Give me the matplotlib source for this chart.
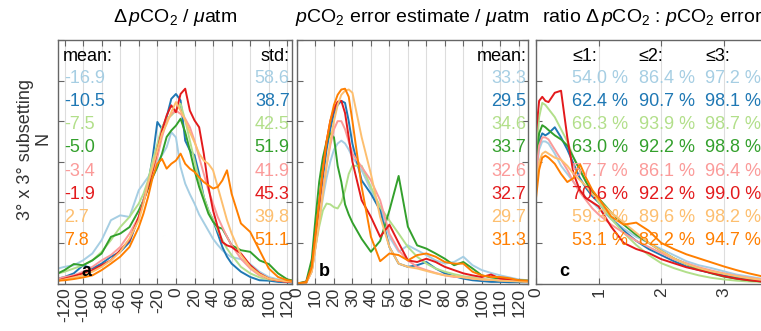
import numpy as np
import matplotlib
matplotlib.use('Agg')
import matplotlib.pyplot as plt

plt.rcParams['font.family'] = ['Liberation Sans', 'DejaVu Sans']
plt.rcParams['mathtext.fontset'] = 'custom'
plt.rcParams['mathtext.rm'] = 'Liberation Sans'
plt.rcParams['mathtext.it'] = 'Liberation Sans:italic'

colors = ['#a6cee3', '#1f78b4', '#b2df8a', '#33a02c',
          '#fb9a99', '#e31a1c', '#fdbf6f', '#ff7f00']

# ---- panel a: delta pCO2 distributions
xa = [-127, -120, -110, -100, -90, -80, -70, -60, -50, -40, -35, -30, -25, -20, -15, -10, -5,
      0, 5, 10, 15, 20, 25, 30, 35, 40, 45, 50, 55, 60, 70, 80, 90, 100, 110, 120, 127]
a_lblue = [0.37, 0.41, 0.45, 0.57, 0.74, 1.07, 1.56, 1.68, 1.64, 2.30, 2.46, 2.62, 2.79, 2.99, 3.16, 3.36, 3.73,
           3.60, 2.87, 2.46, 2.20, 1.97, 1.70, 1.50, 1.30, 1.10, 0.95, 0.82, 0.72, 0.65, 0.60, 0.48, 0.29, 0.16, 0.10, 0.07, 0.04]
a_dblue = [0.12, 0.16, 0.25, 0.45, 0.37, 0.49, 0.66, 0.78, 1.02, 1.64, 2.05, 2.46, 3.11, 3.98, 3.81, 4.10, 4.55,
           4.67, 4.51, 3.52, 3.28, 3.16, 2.70, 2.13, 1.80, 1.56, 1.23, 0.90, 0.66, 0.49, 0.29, 0.16, 0.08, 0.07, 0.04, 0.03, 0.02]
a_lgreen = [0.25, 0.29, 0.37, 0.45, 0.57, 0.78, 1.07, 1.39, 1.64, 1.97, 2.21, 2.54, 3.03, 3.44, 3.85, 4.06, 4.14,
            4.26, 4.43, 4.02, 3.52, 3.03, 2.54, 2.13, 1.80, 1.56, 1.31, 1.07, 0.86, 0.70, 0.41, 0.25, 0.15, 0.10, 0.07, 0.05, 0.04]
a_dgreen = [0.25, 0.33, 0.48, 0.45, 0.57, 0.74, 1.15, 1.23, 1.39, 1.80, 2.05, 2.34, 2.62, 2.87, 3.20, 3.61, 3.77,
            3.89, 4.06, 3.73, 3.28, 2.79, 2.38, 2.05, 1.72, 1.52, 1.39, 1.35, 1.15, 0.94, 0.82, 0.78, 0.57, 0.48, 0.25, 0.10, 0.07]
a_pink = [0.12, 0.16, 0.20, 0.29, 0.41, 0.57, 0.70, 0.90, 1.23, 1.64, 2.05, 2.46, 2.79, 3.11, 3.61, 3.98, 4.18,
          4.26, 4.18, 4.06, 3.85, 3.52, 3.11, 2.70, 2.30, 1.97, 1.64, 1.39, 1.15, 0.94, 0.61, 0.37, 0.20, 0.12, 0.07, 0.04, 0.03]
a_red = [0.07, 0.12, 0.18, 0.25, 0.33, 0.45, 0.57, 0.82, 1.07, 1.64, 2.01, 2.38, 2.79, 3.28, 3.77, 4.14, 4.39,
         4.22, 4.67, 4.80, 4.26, 4.02, 3.85, 3.20, 2.38, 1.80, 1.39, 1.02, 0.94, 0.90, 0.74, 0.45, 0.25, 0.12, 0.07, 0.04, 0.03]
a_lorange = [0.07, 0.10, 0.15, 0.20, 0.29, 0.41, 0.57, 0.78, 1.11, 1.56, 1.97, 2.46, 2.87, 3.28, 3.69, 3.93, 4.22,
             4.47, 4.26, 4.02, 3.73, 3.48, 3.20, 3.03, 2.95, 2.79, 2.38, 1.97, 1.56, 1.23, 0.70, 0.41, 0.23, 0.12, 0.08, 0.05, 0.04]
a_orange = [0.07, 0.08, 0.11, 0.15, 0.20, 0.33, 0.49, 0.66, 0.90, 1.39, 1.72, 2.13, 2.62, 2.95, 3.07, 2.83, 2.95,
            3.03, 3.20, 2.95, 2.83, 2.75, 2.62, 2.50, 2.42, 2.34, 2.38, 2.54, 2.79, 2.21, 1.48, 1.27, 0.82, 0.37, 0.16, 0.08, 0.06]

# ---- panel b: pCO2 error estimate distributions
xb = [0, 5, 8, 10, 12, 14, 16, 18, 20, 22, 24, 26, 28, 30, 35, 40, 45, 50, 55,
      60, 65, 70, 75, 80, 85, 90, 95, 100, 105, 110, 115, 120, 125]
b_lblue = [0, 0.02, 0.30, 0.90, 1.50, 2.10, 2.60, 3.00, 3.30, 3.45, 3.52, 3.45, 3.30, 3.11, 2.79, 2.30, 1.89, 1.15, 0.78,
           0.94, 0.82, 0.70, 0.57, 0.49, 0.53, 0.66, 0.45, 0.33, 0.26, 0.20, 0.15, 0.10, 0.08]
b_dblue = [0, 0.02, 0.35, 1.00, 1.80, 2.60, 3.30, 3.80, 4.20, 4.40, 4.50, 4.45, 4.00, 3.44, 2.54, 2.21, 1.80, 0.90, 0.49,
           0.41, 0.45, 0.53, 0.37, 0.25, 0.18, 0.12, 0.08, 0.06, 0.04, 0.04, 0.03, 0.03, 0.03]
b_lgreen = [0, 0.02, 0.30, 0.90, 1.40, 1.80, 1.97, 1.95, 1.88, 1.85, 2.00, 2.30, 2.70, 2.90, 2.90, 2.38, 1.89, 1.55, 1.23,
            0.90, 0.66, 0.49, 0.37, 0.29, 0.23, 0.18, 0.15, 0.11, 0.09, 0.08, 0.07, 0.06, 0.05]
b_dgreen = [0, 0.05, 0.60, 1.60, 2.50, 3.10, 3.50, 3.70, 3.60, 2.90, 2.50, 1.95, 1.70, 1.50, 1.10, 0.78, 1.05, 1.80, 2.65,
            1.40, 0.94, 0.86, 0.74, 0.61, 0.45, 0.53, 0.37, 0.20, 0.15, 0.12, 0.10, 0.08, 0.07]
b_pink = [0, 0.02, 0.30, 0.90, 1.60, 2.30, 2.90, 3.40, 3.80, 4.00, 4.00, 3.80, 3.50, 3.20, 2.87, 2.54, 2.05, 1.23, 0.82,
          0.57, 0.41, 0.33, 0.26, 0.20, 0.16, 0.16, 0.12, 0.10, 0.09, 0.08, 0.07, 0.06, 0.05]
b_red = [0, 0.03, 0.40, 1.20, 2.00, 2.80, 3.50, 4.00, 4.30, 4.48, 4.50, 4.20, 3.60, 3.00, 2.05, 1.64, 1.15, 1.45, 1.00,
         0.57, 0.53, 0.61, 0.53, 0.41, 0.33, 0.25, 0.20, 0.16, 0.22, 0.12, 0.09, 0.07, 0.05]
b_lorange = [0, 0.02, 0.30, 0.90, 1.50, 2.20, 2.90, 3.50, 4.00, 4.40, 4.65, 4.75, 4.78, 4.70, 3.60, 2.70, 1.64, 0.90, 0.49,
             0.41, 0.37, 0.31, 0.25, 0.20, 0.18, 0.15, 0.12, 0.10, 0.09, 0.07, 0.06, 0.05, 0.04]
b_orange = [0, 0.03, 0.40, 1.20, 2.00, 2.80, 3.50, 4.00, 4.40, 4.65, 4.78, 4.80, 4.60, 4.00, 2.38, 1.15, 0.55, 0.74, 0.70,
            0.57, 0.70, 0.74, 0.66, 0.53, 0.49, 0.49, 0.29, 0.20, 0.16, 0.16, 0.13, 0.08, 0.07]

# ---- panel c: ratio distributions
xc = [0, 0.05, 0.1, 0.15, 0.2, 0.3, 0.4, 0.5, 0.6, 0.7, 0.8, 0.9, 1.0, 1.2, 1.4, 1.6, 1.8,
      2.0, 2.2, 2.4, 2.6, 2.8, 3.0, 3.2, 3.4, 3.6, 3.8]
c_lblue = [2.6, 3.3, 3.5, 3.5, 3.45, 3.2, 2.9, 2.7, 2.5, 2.3, 2.1, 2.0, 1.85, 1.6, 1.35, 1.15, 1.0,
           0.85, 0.7, 0.55, 0.45, 0.38, 0.3, 0.22, 0.17, 0.12, 0.09]
c_dblue = [2.8, 3.5, 3.7, 3.65, 3.7, 3.85, 3.6, 3.3, 2.95, 2.6, 2.35, 2.15, 2.0, 1.6, 1.3, 1.05, 0.85,
           0.7, 0.55, 0.42, 0.33, 0.26, 0.2, 0.15, 0.1, 0.07, 0.05]
c_lgreen = [3.0, 4.1, 4.45, 4.4, 4.3, 4.1, 3.8, 3.5, 3.1, 2.8, 2.5, 2.25, 2.0, 1.6, 1.25, 0.95, 0.7,
            0.5, 0.38, 0.28, 0.2, 0.14, 0.1, 0.07, 0.05, 0.04, 0.03]
c_dgreen = [2.9, 3.7, 3.9, 3.85, 3.78, 3.65, 3.55, 3.4, 3.1, 2.8, 2.5, 2.25, 2.1, 1.75, 1.45, 1.2, 1.0,
            0.8, 0.62, 0.48, 0.35, 0.25, 0.17, 0.12, 0.08, 0.05, 0.04]
c_pink = [2.7, 3.4, 3.6, 3.6, 3.55, 3.3, 3.05, 2.8, 2.5, 2.25, 2.05, 1.85, 1.7, 1.45, 1.25, 1.05, 0.9,
          0.75, 0.6, 0.5, 0.4, 0.32, 0.25, 0.19, 0.14, 0.1, 0.08]
c_red = [3.7, 4.5, 4.6, 4.5, 4.47, 4.7, 4.75, 3.6, 2.7, 2.3, 2.1, 2.0, 1.9, 1.4, 1.0, 0.85, 0.75,
         0.6, 0.5, 0.4, 0.33, 0.26, 0.18, 0.12, 0.08, 0.05, 0.04]
c_lorange = [2.3, 3.0, 3.2, 3.25, 3.2, 3.1, 3.05, 2.9, 2.7, 2.55, 2.4, 2.2, 2.05, 1.75, 1.5, 1.25, 1.0,
             0.8, 0.62, 0.48, 0.38, 0.3, 0.24, 0.18, 0.13, 0.09, 0.07]
c_orange = [2.1, 2.8, 3.1, 3.15, 3.1, 2.95, 2.7, 2.5, 2.6, 2.95, 2.6, 2.3, 2.1, 1.65, 1.45, 1.5, 1.3,
            1.0, 0.85, 0.72, 0.62, 0.52, 0.42, 0.33, 0.25, 0.18, 0.13]

# ---- annotations
mean_dpco2 = ['-16.9', '-10.5', '-7.5', '-5.0', '-3.4', '-1.9', '2.7', '7.8']
std_dpco2 = ['58.6', '38.7', '42.5', '51.9', '41.9', '45.3', '39.8', '51.1']
mean_err = ['33.3', '29.5', '34.6', '33.7', '32.6', '32.7', '29.7', '31.3']
pct_le1 = ['54.0', '62.4', '66.3', '63.0', '57.7', '70.6', '59.3', '53.1']
pct_le2 = ['86.4', '90.7', '93.9', '92.2', '86.1', '92.2', '89.6', '82.2']
pct_le3 = ['97.2', '98.1', '98.7', '98.8', '96.4', '99.0', '98.2', '94.7']

ya = [a_lblue, a_dblue, a_lgreen, a_dgreen, a_pink, a_red, a_lorange, a_orange]
yb = [b_lblue, b_dblue, b_lgreen, b_dgreen, b_pink, b_red, b_lorange, b_orange]
yc = [c_lblue, c_dblue, c_lgreen, c_dgreen, c_pink, c_red, c_lorange, c_orange]

W, H = 761, 331
fig = plt.figure(figsize=(W / 100, H / 100), dpi=100)

def px_axes(x0, x1, y0, y1):
    return fig.add_axes([x0 / W, 1 - y1 / H, (x1 - x0) / W, (y1 - y0) / H])

axa = px_axes(58, 292, 40, 283.5)
axb = px_axes(297, 528, 40, 283.5)
axc = px_axes(536, 769, 40, 283.5)

row_y = [0.84 - 0.0945 * i for i in range(8)]
fs = 13

for ax, xs, ys, xlim, ticks in [(axa, xa, ya, (-127, 125), np.arange(-120, 121, 20)),
                                (axb, xb, yb, (0, 125), np.arange(0, 121, 10)),
                                (axc, xc, yc, (0, 3.72), [0, 1, 2, 3])]:
    for y, c in zip(ys, colors):
        ax.plot(xs, y, color=c, lw=1.4)
    ax.set_xlim(*xlim)
    ax.set_ylim(0, 6)
    ax.set_xticks(ticks)
    ax.set_xticklabels([str(t) for t in ticks], rotation=90, fontsize=12.5, color='#333333')
    ax.set_yticks(range(7))
    ax.set_yticklabels([])
    ax.tick_params(direction='in', top=True, right=True, length=4, color='#666666', width=0.8, pad=3)
    ax.grid(axis='x', color='#dddddd', lw=0.8)
    ax.set_axisbelow(True)
    for s in ax.spines.values():
        s.set_color('#666666')
        s.set_linewidth(1.0)

# panel a text
axa.text(0.02, 0.934, 'mean:', transform=axa.transAxes, fontsize=fs, va='center', ha='left')
axa.text(0.99, 0.934, 'std:', transform=axa.transAxes, fontsize=fs, va='center', ha='right')
for i, c in enumerate(colors):
    axa.text(0.025, row_y[i], mean_dpco2[i], transform=axa.transAxes, fontsize=fs, color=c, va='center', ha='left')
    axa.text(0.99, row_y[i], std_dpco2[i], transform=axa.transAxes, fontsize=fs, color=c, va='center', ha='right')

# panel b text
axb.text(0.993, 0.934, 'mean:', transform=axb.transAxes, fontsize=fs, va='center', ha='right')
for i, c in enumerate(colors):
    axb.text(0.993, row_y[i], mean_err[i], transform=axb.transAxes, fontsize=fs, color=c, va='center', ha='right')

# panel c text
cols = [0.155, 0.44, 0.725]
for cx, h in zip(cols, ['\u22641:', '\u22642:', '\u22643:']):
    axc.text(cx, 0.934, h, transform=axc.transAxes, fontsize=fs, va='center', ha='left')
for i, c in enumerate(colors):
    for cx, vals in zip(cols, [pct_le1, pct_le2, pct_le3]):
        axc.text(cx, row_y[i], vals[i] + ' %', transform=axc.transAxes, fontsize=fs, color=c,
                 va='center', ha='left', clip_on=False)

for ax, lab in [(axa, 'a'), (axb, 'b'), (axc, 'c')]:
    ax.text(0.12, 0.05, lab, transform=ax.transAxes, fontsize=13, fontweight='bold', ha='center', va='center')

tfs = 14
fig.text(175 / W, 1 - 17 / H, r'$\Delta\,\mathit{p}$CO$_2$ / $\mu$atm', fontsize=tfs, ha='center', va='center')
fig.text(412 / W, 1 - 17 / H, r'$\mathit{p}$CO$_2$ error estimate / $\mu$atm', fontsize=tfs, ha='center', va='center')
fig.text(652 / W, 1 - 17 / H, r'ratio $\Delta\,\mathit{p}$CO$_2$ : $\mathit{p}$CO$_2$ error',
         fontsize=tfs, ha='center', va='center')

fig.text(26 / W, 1 - 150 / H, '3\u00b0 x 3\u00b0 subsetting', rotation=90, fontsize=fs,
         ha='center', va='center', color='#333333')
fig.text(43 / W, 1 - 138 / H, 'N', rotation=90, fontsize=fs, ha='center', va='center', color='#333333')

fig.savefig('out.png', dpi=100)
